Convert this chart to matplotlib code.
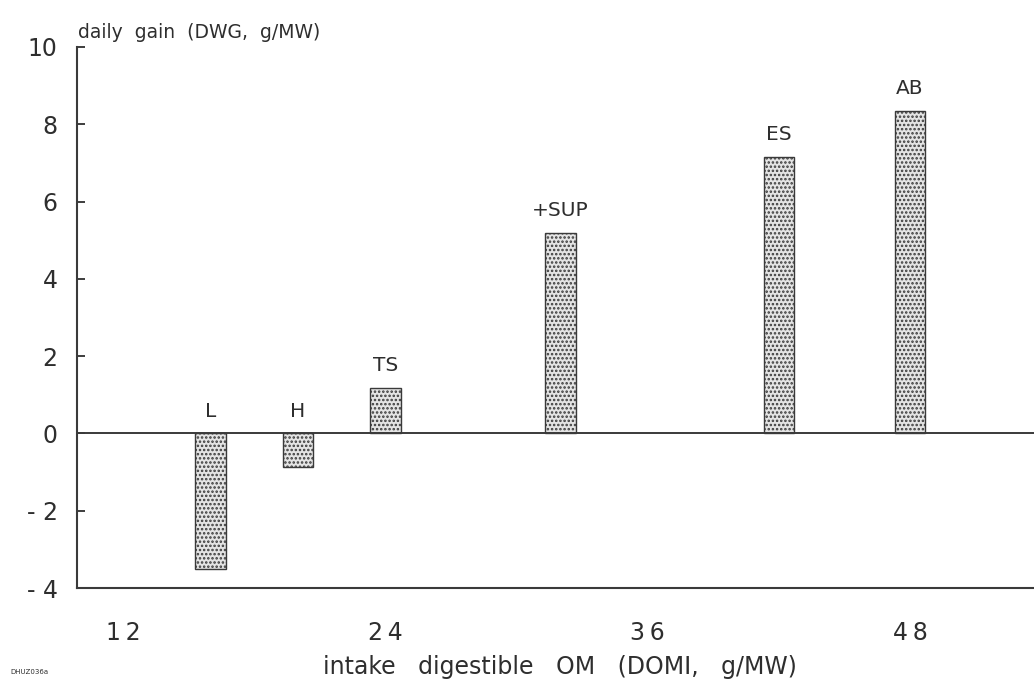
import matplotlib
matplotlib.use("Agg")
import matplotlib.pyplot as plt

# Data
categories = ["L", "H", "TS", "+SUP", "ES", "AB"]
domi = [16, 20, 24, 32, 42, 48]
dwg = [-3.5, -0.87, 1.18, 5.19, 7.16, 8.35]
xticks = [12, 24, 36, 48]
yticks = [-4, -2, 0, 2, 4, 6, 8, 10]
ytick_labels = ["- 4", "- 2", "0", "2", "4", "6", "8", "10"]

plt.rcParams['font.family'] = ['DejaVu Sans']
plt.rcParams['hatch.linewidth'] = 1.2
plt.rcParams['hatch.color'] = '#6a6a6a'
ink = '#2e2e2e'

fig = plt.figure(figsize=(10.34, 6.82), dpi=100)
ax = fig.add_axes([77/1034, 1-588/682, 1-77/1034, (588-47)/682])

ax.bar(domi, dwg, width=1.4, facecolor='#e4e4e4', edgecolor='#3a3a3a',
       linewidth=1.0, hatch='....', zorder=2)
ax.axhline(0, color='#3a3a3a', lw=1.4, zorder=3)

for x, v, lab in zip(domi, dwg, categories):
    ax.annotate(lab, (x, max(v, 0)), xytext=(0, 16), textcoords='offset points',
                ha='center', va='center', fontsize=14.5, color=ink)

ax.set_xlim(9.9, 53.67)
ax.set_ylim(-4, 10)
ax.set_yticks(yticks)
ax.set_yticklabels(ytick_labels)
ax.set_xticks(xticks)
ax.set_xticklabels(["\u2009".join(str(t)) for t in xticks])
ax.tick_params(axis='y', direction='in', length=6, width=1.3, pad=14,
               labelsize=17, colors=ink)
ax.tick_params(axis='x', length=0, pad=24, labelsize=17, colors=ink)
for s in ['top', 'right']:
    ax.spines[s].set_visible(False)
for s in ['left', 'bottom']:
    ax.spines[s].set_linewidth(1.5)
    ax.spines[s].set_color('#3a3a3a')

fig.text(78/1034, 1-32/682, "daily  gain  (DWG,  g/MW)", ha='left', va='center',
         fontsize=13.5, color=ink)
fig.text(560/1034, 1-667/682, "intake   digestible   OM   (DOMI,   g/MW)", ha='center',
         va='center', fontsize=17, color=ink)
fig.text(10/1034, 1-672/682, "DHUZ036a", ha='left', va='center', fontsize=5, color=ink)

fig.savefig("out.png", dpi=100)
